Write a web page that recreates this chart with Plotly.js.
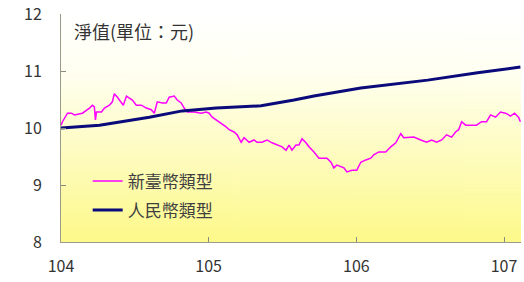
<!DOCTYPE html>
<html>
<head>
<meta charset="utf-8">
<script src="https://cdn.plot.ly/plotly-3.0.1.min.js"></script>
<style>
html,body{margin:0;padding:0;background:#fff;}
#chart{width:524px;height:282px;}
</style>
</head>
<body>
<div id="chart"></div>
<script>
// ---- data ----
const seriesNames = ["新臺幣類型", "人民幣類型"];
const twdX = [104.00,104.01,104.044,104.071,104.091,104.145,104.193,104.213,104.226,104.233,104.24,104.274,104.294,104.328,104.348,104.361,104.382,104.409,104.422,104.443,104.463,104.483,104.51,104.544,104.578,104.611,104.632,104.652,104.686,104.713,104.733,104.767,104.787,104.814,104.834,104.855,104.902,104.949,104.983,105.003,105.024,105.051,105.084,105.118,105.139,105.172,105.193,105.22,105.24,105.274,105.307,105.328,105.361,105.395,105.429,105.463,105.497,105.524,105.544,105.564,105.591,105.611,105.632,105.659,105.679,105.713,105.747,105.767,105.801,105.828,105.848,105.868,105.895,105.916,105.936,105.97,106.003,106.03,106.064,106.098,106.118,106.152,106.199,106.233,106.267,106.301,106.321,106.355,106.389,106.436,106.476,106.51,106.544,106.578,106.611,106.645,106.672,106.693,106.713,106.74,106.774,106.814,106.848,106.882,106.909,106.943,106.976,107.01,107.044,107.071,107.098,107.111];
const twdY = [10.05,10.11,10.26,10.26,10.23,10.26,10.35,10.40,10.37,10.14,10.28,10.28,10.35,10.40,10.46,10.60,10.54,10.44,10.40,10.56,10.53,10.49,10.40,10.40,10.35,10.32,10.26,10.46,10.44,10.44,10.54,10.56,10.49,10.44,10.35,10.28,10.28,10.26,10.28,10.26,10.19,10.14,10.09,10.02,9.97,9.93,9.88,9.75,9.83,9.75,9.79,9.75,9.75,9.79,9.74,9.70,9.67,9.61,9.70,9.61,9.70,9.70,9.81,9.74,9.67,9.58,9.47,9.47,9.47,9.40,9.30,9.35,9.32,9.30,9.23,9.26,9.26,9.40,9.44,9.47,9.53,9.58,9.58,9.67,9.74,9.90,9.83,9.83,9.84,9.79,9.75,9.79,9.75,9.79,9.88,9.84,9.93,9.97,10.11,10.05,10.05,10.05,10.11,10.11,10.23,10.19,10.28,10.26,10.21,10.26,10.19,10.11];
const cnyX = [104.00,104.261,104.598,104.686,104.821,105.051,105.355,105.578,105.713,106.030,106.483,106.821,107.111];
const cnyY = [10.00,10.05,10.19,10.23,10.30,10.35,10.39,10.49,10.56,10.70,10.84,10.97,11.07];
const xTicks = [104, 105, 106, 107];
const yTicks = [8, 9, 10, 11, 12];
const unitLabel = "淨值(單位：元)";

// ---- background gradient for the plot area ----
const cv = document.createElement("canvas");
cv.width = 4; cv.height = 256;
const ctx = cv.getContext("2d");
const g = ctx.createLinearGradient(0, 0, 0, 256);
g.addColorStop(0, "#ffffff");
g.addColorStop(0.25, "#fffff2");
g.addColorStop(1, "#fdf98a");
ctx.fillStyle = g; ctx.fillRect(0, 0, 4, 256);
const bgURL = cv.toDataURL("image/png");

const font = "'Noto Sans CJK TC', 'Noto Sans', sans-serif";

const traces = [
  {x: twdX, y: twdY, name: seriesNames[0], legendgroup: "a", type: "scatter", mode: "lines",
   line: {color: "#ff00ff", width: 1.5}},
  {x: cnyX, y: cnyY, name: seriesNames[1], legendgroup: "b", type: "scatter", mode: "lines",
   line: {color: "#0a0a7a", width: 3}}
];

const axisCommon = {
  showgrid: false, zeroline: false, showline: true, linecolor: "#9a9a88", linewidth: 1,
  ticks: "inside", ticklen: 5, tickcolor: "#8a8a80", tickwidth: 1,
  tickfont: {family: font, size: 16, color: "#333333"}
};

const layout = {
  width: 524, height: 282,
  margin: {l: 61, r: 3, t: 14, b: 40},
  paper_bgcolor: "#ffffff",
  plot_bgcolor: "rgba(0,0,0,0)",
  showlegend: true,
  legend: {x: 0.058, y: 0.345, xanchor: "left", yanchor: "top", bgcolor: "rgba(0,0,0,0)",
           traceorder: "grouped", tracegroupgap: 4,
           font: {family: font, size: 17, color: "#404040"}, itemwidth: 30},
  xaxis: Object.assign({}, axisCommon, {range: [104, 107.115], tickvals: xTicks,
           ticktext: xTicks.map(String), ticklabelstandoff: 10}),
  yaxis: Object.assign({}, axisCommon, {range: [8, 12], tickvals: yTicks,
           ticktext: yTicks.map(String), ticklabelstandoff: 15}),
  annotations: [{xref: "paper", yref: "paper", x: 0.023, y: 0.99, xanchor: "left", yanchor: "top",
                 text: unitLabel, showarrow: false, font: {family: font, size: 18, color: "#333333"}}],
  images: [{source: bgURL, xref: "paper", yref: "paper", x: 0, y: 1, sizex: 1, sizey: 1,
            sizing: "stretch", layer: "below", xanchor: "left", yanchor: "top"}]
};

Plotly.newPlot("chart", traces, layout, {staticPlot: true, displayModeBar: false});
</script>
</body>
</html>
